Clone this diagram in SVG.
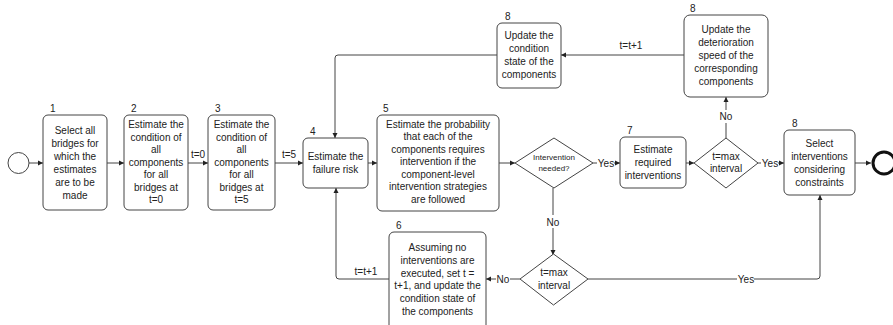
<svg xmlns="http://www.w3.org/2000/svg" width="893" height="325" viewBox="0 0 893 325">
<defs>
<marker id="ah" markerWidth="6" markerHeight="6" refX="5" refY="3" orient="auto" markerUnits="userSpaceOnUse">
<path d="M0,0.5 L5,3 L0,5.5 Z" fill="#222"/>
</marker>
<style>
.box{fill:#fff;stroke:#444;stroke-width:1}
.dia{fill:#fff;stroke:#444;stroke-width:1}
.t{font-family:"Liberation Sans",Arial,sans-serif;font-size:10px;fill:#222;text-anchor:middle}
.s{font-family:"Liberation Sans",Arial,sans-serif;font-size:8px;fill:#222;text-anchor:middle}
.n{font-family:"Liberation Sans",Arial,sans-serif;font-size:10px;fill:#222}
.c{fill:none;stroke:#444;stroke-width:1}
.lb{fill:#fff}
</style>
</defs>
<rect width="893" height="325" fill="#fff"/>

<g id="connectors">
<path class="c" d="M29,163 H43" marker-end="url(#ah)"/>
<path class="c" d="M107,163 H124" marker-end="url(#ah)"/>
<path class="c" d="M188,163 H208" marker-end="url(#ah)"/>
<path class="c" d="M275,163 H303" marker-end="url(#ah)"/>
<path class="c" d="M368,163 H377" marker-end="url(#ah)"/>
<path class="c" d="M499,163 H515" marker-end="url(#ah)"/>
<path class="c" d="M593,163 H620" marker-end="url(#ah)"/>
<path class="c" d="M686,163 H694" marker-end="url(#ah)"/>
<path class="c" d="M758,163 H784" marker-end="url(#ah)"/>
<path class="c" d="M855,163 H871" marker-end="url(#ah)"/>
<path class="c" d="M726,138 V97" marker-end="url(#ah)"/>
<path class="c" d="M684,55 H561" marker-end="url(#ah)"/>
<path class="c" d="M497,55 H338 Q335,55 335,58 V138" marker-end="url(#ah)"/>
<path class="c" d="M553,188 V255" marker-end="url(#ah)"/>
<path class="c" d="M520,279 H486" marker-end="url(#ah)"/>
<path class="c" d="M389,279 H339 Q336,279 336,276 V188" marker-end="url(#ah)"/>
<path class="c" d="M588,279 H817 Q820,279 820,276 V195" marker-end="url(#ah)"/>
<rect class="lb" x="597" y="156" width="17" height="13"/>
<text class="t" x="606" y="167">Yes</text>
<rect class="lb" x="761" y="156" width="17" height="13"/>
<text class="t" x="770" y="167">Yes</text>
<rect class="lb" x="719" y="110" width="14" height="13"/>
<text class="t" x="726" y="120">No</text>
<rect class="lb" x="546" y="215" width="14" height="13"/>
<text class="t" x="553" y="226">No</text>
<rect class="lb" x="496" y="273" width="14" height="13"/>
<text class="t" x="503" y="283">No</text>
<rect class="lb" x="737" y="273" width="17" height="13"/>
<text class="t" x="746" y="283">Yes</text>
<text class="t" x="198" y="158">t=0</text>
<text class="t" x="289" y="158">t=5</text>
<text class="t" x="631" y="49">t=t+1</text>
<text class="t" x="366" y="275">t=t+1</text>
</g>

<g id="start"><circle cx="18.5" cy="163" r="10.5" fill="#fff" stroke="#444" stroke-width="1"/></g>
<g id="end"><circle cx="884" cy="163" r="11" fill="#fff" stroke="#111" stroke-width="3"/></g>

<g id="n1">
<rect class="box" x="43" y="115" width="64" height="95" rx="5"/>
<text class="n" x="50" y="112">1</text>
<text class="t" x="75" y="134">Select all</text>
<text class="t" x="75" y="147">bridges for</text>
<text class="t" x="75" y="160">which the</text>
<text class="t" x="75" y="173">estimates</text>
<text class="t" x="75" y="186">are to be</text>
<text class="t" x="75" y="199">made</text>
</g>

<g id="n2">
<rect class="box" x="124" y="115" width="64" height="95" rx="5"/>
<text class="n" x="131" y="112">2</text>
<text class="t" x="156" y="128">Estimate the</text>
<text class="t" x="156" y="140.5">condition of</text>
<text class="t" x="156" y="153">all</text>
<text class="t" x="156" y="165.5">components</text>
<text class="t" x="156" y="178">for all</text>
<text class="t" x="156" y="190.5">bridges at</text>
<text class="t" x="156" y="203">t=0</text>
</g>

<g id="n3">
<rect class="box" x="208" y="115" width="67" height="95" rx="5"/>
<text class="n" x="215" y="112">3</text>
<text class="t" x="241.5" y="128">Estimate the</text>
<text class="t" x="241.5" y="140.5">condition of</text>
<text class="t" x="241.5" y="153">all</text>
<text class="t" x="241.5" y="165.5">components</text>
<text class="t" x="241.5" y="178">for all</text>
<text class="t" x="241.5" y="190.5">bridges at</text>
<text class="t" x="241.5" y="203">t=5</text>
</g>

<g id="n4">
<rect class="box" x="303" y="138" width="65" height="50" rx="5"/>
<text class="n" x="310" y="135">4</text>
<text class="t" x="335.5" y="160">Estimate the</text>
<text class="t" x="335.5" y="173">failure risk</text>
</g>

<g id="n5">
<rect class="box" x="377" y="115" width="122" height="96" rx="5"/>
<text class="n" x="383" y="112">5</text>
<text class="t" x="438" y="127.5">Estimate the probability</text>
<text class="t" x="438" y="140">that each of the</text>
<text class="t" x="438" y="152.5">components requires</text>
<text class="t" x="438" y="165">intervention if the</text>
<text class="t" x="438" y="177.5">component-level</text>
<text class="t" x="438" y="190">intervention strategies</text>
<text class="t" x="438" y="203">are followed</text>
</g>

<g id="d1">
<polygon class="dia" points="515,163 554,138 593,163 554,188"/>
<text class="s" x="554" y="160">Intervention</text>
<text class="s" x="554" y="171">needed?</text>
</g>

<g id="n7">
<rect class="box" x="620" y="137" width="66" height="51" rx="5"/>
<text class="n" x="627" y="134">7</text>
<text class="t" x="653" y="153">Estimate</text>
<text class="t" x="653" y="166">required</text>
<text class="t" x="653" y="179">interventions</text>
</g>

<g id="d2">
<polygon class="dia" points="694,163 726,138 758,163 726,188"/>
<text class="t" x="726" y="160">t=max</text>
<text class="t" x="726" y="172">interval</text>
</g>

<g id="n8c">
<rect class="box" x="784" y="130" width="71" height="65" rx="5"/>
<text class="n" x="792" y="127">8</text>
<text class="t" x="819.5" y="147">Select</text>
<text class="t" x="819.5" y="160">interventions</text>
<text class="t" x="819.5" y="173">considering</text>
<text class="t" x="819.5" y="186">constraints</text>
</g>

<g id="n8b">
<rect class="box" x="684" y="15" width="84" height="82" rx="6"/>
<text class="n" x="690" y="12">8</text>
<text class="t" x="726" y="33">Update the</text>
<text class="t" x="726" y="46">deterioration</text>
<text class="t" x="726" y="59">speed of the</text>
<text class="t" x="726" y="72">corresponding</text>
<text class="t" x="726" y="85">components</text>
</g>

<g id="n8a">
<rect class="box" x="497" y="23" width="64" height="65" rx="5"/>
<text class="n" x="505" y="20">8</text>
<text class="t" x="529" y="39">Update the</text>
<text class="t" x="529" y="52">condition</text>
<text class="t" x="529" y="65">state of the</text>
<text class="t" x="529" y="78">components</text>
</g>

<g id="d3">
<polygon class="dia" points="520,279 553.5,254 588,279 553.5,305"/>
<text class="t" x="554" y="276">t=max</text>
<text class="t" x="554" y="289">interval</text>
</g>

<g id="n6">
<rect class="box" x="389" y="232" width="97" height="100" rx="5"/>
<text class="n" x="396" y="229">6</text>
<text class="t" x="437.5" y="251">Assuming no</text>
<text class="t" x="437.5" y="264">interventions are</text>
<text class="t" x="437.5" y="276.5">executed, set t =</text>
<text class="t" x="437.5" y="289">t+1, and update the</text>
<text class="t" x="437.5" y="302">condition state of</text>
<text class="t" x="437.5" y="314.5">the components</text>
</g>
</svg>
